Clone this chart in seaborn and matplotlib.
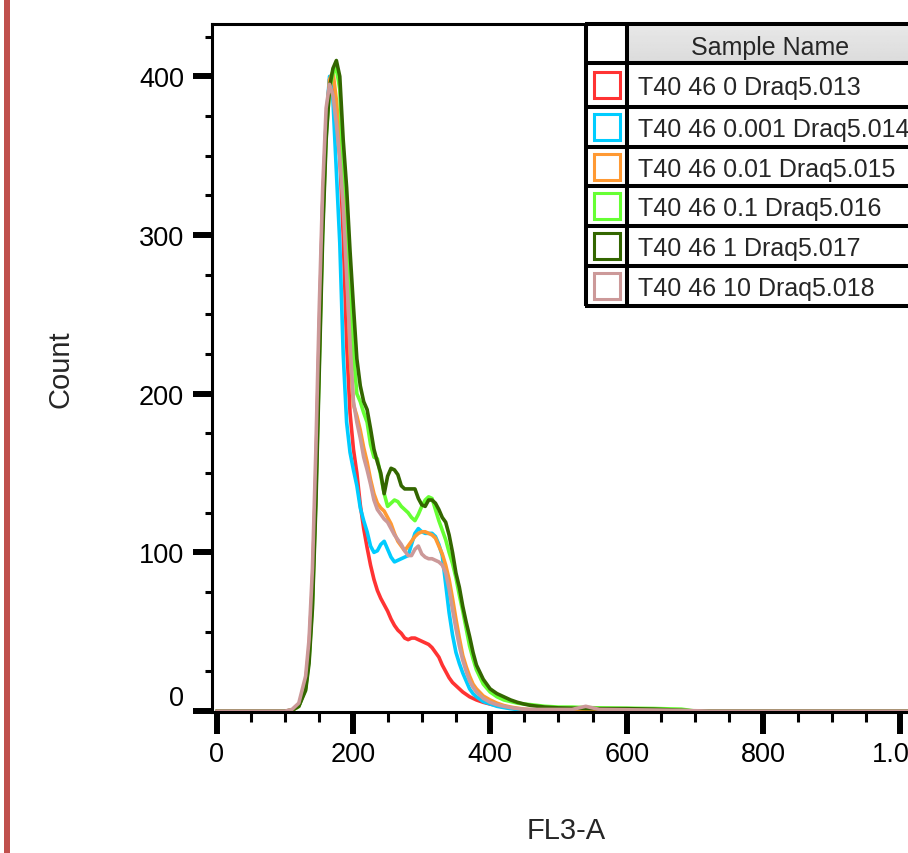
import matplotlib
matplotlib.use("Agg")
import matplotlib.pyplot as plt
from matplotlib.patches import Rectangle
from matplotlib.ticker import MultipleLocator
import numpy as np
import pandas as pd
import seaborn as sns

sns.set_style("ticks")
plt.rcParams["font.family"] = ["Liberation Sans", "DejaVu Sans"]

samples = ["T40 46 0 Draq5.013", "T40 46 0.001 Draq5.014", "T40 46 0.01 Draq5.015",
           "T40 46 0.1 Draq5.016", "T40 46 1 Draq5.017", "T40 46 10 Draq5.018"]
colors = ["#FF3333", "#00CCFF", "#FF9933", "#66FF33", "#336600", "#CC9999"]

fl3 = [0, 100, 110, 120, 130, 135, 140, 145, 150, 155,
       160, 165, 170, 175, 180, 185, 190, 195, 200, 205,
       210, 215, 220, 225, 230, 235, 240, 245, 250, 255,
       260, 265, 270, 275, 280, 285, 290, 295, 300, 305,
       310, 315, 320, 325, 330, 335, 340, 345, 350, 355,
       360, 365, 370, 375, 380, 390, 400, 410, 420, 430,
       440, 450, 460, 480, 500, 520, 540, 560, 600, 640,
       680, 700, 720, 1024]

count_0 = [0, 0, 0.5, 3, 18, 40, 80, 150, 240, 320,
           370, 398, 392, 372, 350, 300, 232, 188, 165, 150,
           130, 115, 103, 92, 83, 76, 71, 67, 63, 58,
           54, 51, 49, 46, 45, 46, 46, 45, 44, 43,
           42, 40, 37, 34, 29, 25, 21, 18, 16, 14,
           12, 10.5, 9, 8, 7, 5.5, 4.4, 3.5, 2.5, 2,
           1.2, 0.8, 0.5, 0.3, 0.2, 0, 0, 0, 0, 0,
           0, 0, 0, 0]
count_0001 = [0, 0, 0.5, 3, 15, 35, 75, 145, 235, 318,
              372, 400, 385, 340, 295, 225, 182, 163, 152, 142,
              128, 120, 113, 104, 100, 101, 105, 107, 102, 97,
              94, 95, 96, 97, 98, 105, 112, 115, 113, 112,
              112, 112, 110, 105, 98, 80, 62, 48, 37, 30,
              24, 19, 14, 11, 9, 6, 4.5, 3, 2.2, 1.5,
              1, 0.7, 0.5, 0.3, 0.2, 0.1, 0, 0, 0, 0,
              0, 0, 0, 0]
count_001 = [0, 0, 0.5, 3, 15, 35, 72, 140, 228, 312,
             368, 398, 403, 385, 360, 330, 285, 225, 193, 186,
             177, 166, 157, 146, 137, 131, 128, 126, 122, 118,
             112, 107, 104, 101, 104, 107, 110, 112, 113, 113,
             112, 111, 109, 104, 99, 92, 83, 71, 58, 46,
             35, 28, 22, 17, 14, 9.5, 7, 5, 3.5, 2.5,
             1.8, 1.2, 0.8, 0.5, 0.3, 0.2, 0.1, 0, 0, 0,
             0, 0, 0, 0]
count_01 = [0, 0, 0.5, 3, 14, 32, 68, 135, 220, 305,
            362, 392, 402, 405, 392, 340, 320, 270, 225, 200,
            195, 188, 182, 168, 160, 159, 148, 137, 129, 131,
            133, 132, 129, 127, 125, 122, 120, 124, 129, 133,
            135, 134, 127, 120, 114, 108, 100, 93, 84, 73,
            63, 52, 41, 33, 26, 17, 12, 9, 7, 6,
            5, 4.4, 4, 3, 2.5, 2.5, 2.2, 2, 1.8, 1.6,
            1.2, 0, 0, 0]
count_1 = [0, 0, 0.5, 3, 13, 30, 65, 130, 215, 300,
           360, 393, 405, 410, 400, 360, 330, 290, 255, 222,
           205, 195, 190, 178, 165, 157, 150, 137, 148, 153,
           152, 149, 142, 140, 140, 140, 140, 134, 130, 129,
           133, 133, 131, 127, 122, 119, 111, 100, 87, 78,
           66, 56, 47, 37, 29, 20, 14, 11, 9, 7,
           5.5, 4.4, 3.5, 2.5, 2, 1.8, 1.6, 1.5, 1.5, 1.2,
           0.5, 0, 0, 0]
count_10 = [0, 0, 1, 5, 22, 45, 90, 165, 255, 330,
            380, 395, 388, 370, 348, 318, 275, 232, 195, 182,
            172, 160, 152, 143, 133, 127, 124, 121, 119, 115,
            111, 108, 105, 101, 98, 98, 102, 104, 99, 97,
            96, 96, 95, 94, 92, 87, 77, 64, 52, 41,
            32, 25, 19, 15, 12, 8, 5.5, 4, 3, 2.2,
            1.6, 1.2, 1, 1, 1, 1, 3, 1, 0.8, 0.6,
            0.4, 0.2, 0, 0]
counts = [count_0, count_0001, count_001, count_01, count_1, count_10]

x_ticks = [0, 200, 400, 600, 800, 1000]
x_tick_labels = ["0", "200", "400", "600", "800", "1.0K"]
y_ticks = [0, 100, 200, 300, 400]

df = pd.concat([pd.DataFrame({"FL3-A": fl3, "Count": c, "Sample": s})
                for s, c in zip(samples, counts)], ignore_index=True)

fig = plt.figure(figsize=(9.08, 8.54), dpi=100)
ax = fig.add_axes([0.2335, 0.1651, 0.7803, 0.8056])

sns.lineplot(data=df, x="FL3-A", y="Count", hue="Sample", hue_order=samples,
             palette=dict(zip(samples, colors)), estimator=None,
             linewidth=2.6, legend=False, ax=ax)

ax.set_xlim(-7, 1030)
ax.set_ylim(-0.6, 433)
ax.set_xticks(x_ticks, labels=x_tick_labels)
ax.set_yticks(y_ticks)
ax.xaxis.set_minor_locator(MultipleLocator(50))
ax.yaxis.set_minor_locator(MultipleLocator(25))

for side in ["top", "left", "bottom"]:
    ax.spines[side].set_linewidth(2.2)
    ax.spines[side].set_color("black")
ax.spines["right"].set_visible(False)

ax.tick_params(axis="both", which="major", width=4.3, color="black",
               labelsize=19.5, labelcolor="black")
ax.tick_params(axis="x", which="major", length=16, pad=5)
ax.tick_params(axis="y", which="major", length=14, pad=6)
ax.tick_params(axis="x", which="minor", length=7.5, width=2.2, color="black")
ax.tick_params(axis="y", which="minor", length=5, width=2.2, color="black")
ax.yaxis.get_major_ticks()[0].label1.set_verticalalignment("bottom")

ax.set_xlabel("FL3-A", fontsize=21)
ax.set_ylabel("Count", fontsize=21)
ax.xaxis.set_label_coords(0.5, -0.1715)
ax.xaxis.label.set_verticalalignment("center")
ax.yaxis.set_label_coords(-0.2145, 0.5)
ax.yaxis.label.set_verticalalignment("center")

# ---- overlay in pixel units: table legend and left accent bar ----
ov = fig.add_axes([0, 0, 1, 1], zorder=5)
ov.add_patch(Rectangle((3.5, 0), 6.5, 854, color="#C0504D", lw=0))

tab_l, tab_c, tab_r = 586, 627, 913
row_y = [25, 64, 108, 148, 187, 227, 267, 307]
ov.add_patch(Rectangle((tab_l, row_y[0]), tab_r - tab_l, row_y[-1] - row_y[0],
                       facecolor="white", lw=0))
grad = np.linspace(0.91, 0.86, 30).reshape(-1, 1)
ov.imshow(grad, cmap="gray", vmin=0, vmax=1, aspect="auto",
          extent=[tab_c, tab_r, row_y[1], row_y[0]], zorder=1)
for yy in row_y:
    ov.plot([tab_l - 1.5, tab_r], [yy, yy], color="black", lw=2.9, zorder=3,
            solid_capstyle="butt")
for xx in [tab_l, tab_c]:
    ov.plot([xx, xx], [row_y[0], row_y[-1]], color="black", lw=2.9, zorder=3,
            solid_capstyle="butt")
ov.text((tab_c + tab_r) / 2, 55, "Sample Name", fontsize=18, ha="center",
        va="baseline", zorder=4)
for i, (s, c) in enumerate(zip(samples, colors)):
    yc = (row_y[i + 1] + row_y[i + 2]) / 2
    ov.add_patch(Rectangle((594, yc - 13), 26, 26, facecolor="white",
                           edgecolor=c, lw=2.2, zorder=4))
    ov.text(638, yc + 9, s, fontsize=18, ha="left", va="baseline", zorder=4)

ov.set_xlim(0, 908)
ov.set_ylim(854, 0)
ov.axis("off")

fig.savefig("out.png", dpi=100)
